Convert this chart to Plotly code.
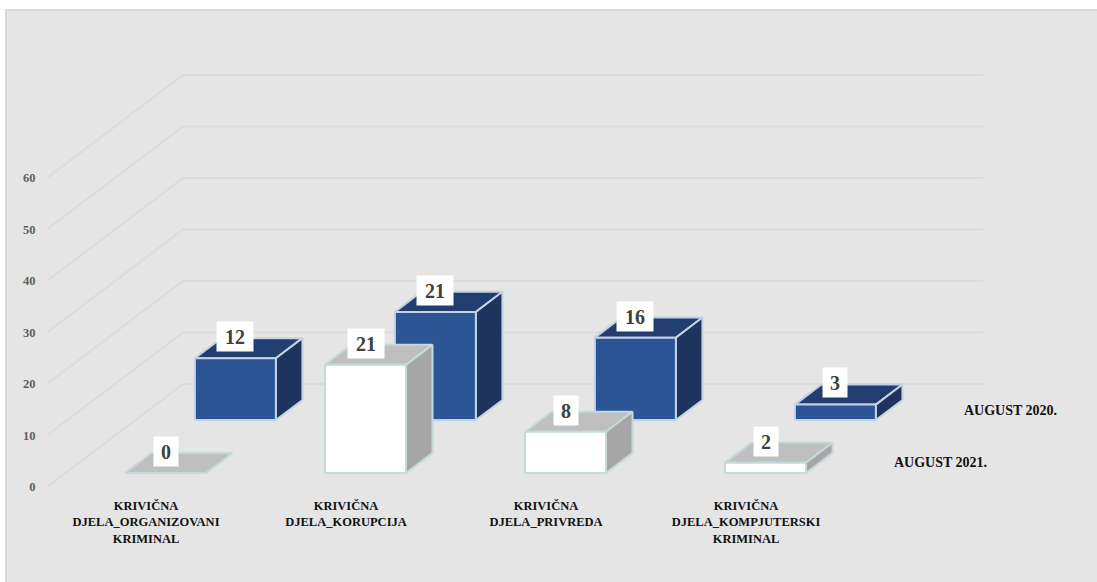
import plotly.graph_objects as go

categories = ["KRIVIČNA<br>DJELA_ORGANIZOVANI<br>KRIMINAL", "KRIVIČNA<br>DJELA_KORUPCIJA",
              "KRIVIČNA<br>DJELA_PRIVREDA", "KRIVIČNA<br>DJELA_KOMPJUTERSKI<br>KRIMINAL"]
series_2020 = [12, 21, 16, 3]
series_2021 = [0, 21, 8, 2]
name_2020 = "AUGUST 2020."
name_2021 = "AUGUST 2021."
y_ticks = [0, 10, 20, 30, 40, 50, 60]

FONT = "Liberation Serif"
DX, DY = 0.68, 20.0          # oblique projection of the depth axis
BAR_W = 0.405


def proj(c, v, d):
    return c + d * DX, v + d * DY


def faces(values, d0, d1):
    front, top, side = ([], []), ([], []), ([], [])
    for i, v in enumerate(values):
        l = i + 0.5 - BAR_W / 2
        r = i + 0.5 + BAR_W / 2
        polys = [
            (top, [(l, v, d0), (r, v, d0), (r, v, d1), (l, v, d1)]),
        ]
        if v > 0:
            polys.append((side, [(r, 0, d0), (r, 0, d1), (r, v, d1), (r, v, d0)]))
            polys.append((front, [(l, 0, d0), (r, 0, d0), (r, v, d0), (l, v, d0)]))
        for target, pts in polys:
            for p in pts + pts[:1]:
                x, y = proj(*p)
                target[0].append(x)
                target[1].append(y)
            target[0].append(None)
            target[1].append(None)
    return front, top, side


fig = go.Figure()

# gridlines: floor-side slant and back wall
for v in y_ticks:
    x0, y0 = proj(0, v, 0)
    x1, y1 = proj(0, v, 1)
    x2, y2 = proj(4, v, 1)
    fig.add_trace(go.Scatter(x=[x0, x1, x2], y=[y0, y1, y2], mode="lines",
                             line=dict(color="#DBDBDB", width=2), hoverinfo="skip", showlegend=False))


def add_series(values, d0, d1, name, cols, edge):
    front, top, side = faces(values, d0, d1)
    for data, col in ((top, cols[0]), (side, cols[1]), (front, cols[2])):
        fig.add_trace(go.Scatter(x=data[0], y=data[1], mode="lines", fill="toself", fillcolor=col,
                                 line=dict(color=edge, width=2), name=name, hoverinfo="skip",
                                 showlegend=False))


D_2020 = (0.65, 0.845)
D_2021 = (0.136, 0.331)
add_series(series_2020, *D_2020, name_2020, ("#223D70", "#1E345F", "#2C5596"), "#C3D1E3")
add_series(series_2021, *D_2021, name_2021, ("#BFBFBF", "#A6A6A6", "#FFFFFF"), "#C4DADA")

annotations = []
for values, (d0, d1) in ((series_2020, D_2020), (series_2021, D_2021)):
    for i, v in enumerate(values):
        x, y = proj(i + 0.5, v, d0)
        _, yb = proj(i + 0.5, v, d1)
        annotations.append(dict(x=x, y=yb + 0.3, xref="x", yref="y", text=f"<b>{v}</b>", showarrow=False,
                                bgcolor="#FFFFFF", width=22 if v < 10 else 34, height=27,
                                font=dict(family=FONT, size=20, color="#404040")))

for name, (d0, d1) in ((name_2020, D_2020), (name_2021, D_2021)):
    x, y = proj(4.31, 0, (d0 + d1) / 2)
    annotations.append(dict(x=x, y=y, xref="x", yref="y", text=f"<b>{name}</b>", showarrow=False,
                            font=dict(family=FONT, size=14, color="#111111")))

fig.update_layout(
    width=1097, height=582,
    margin=dict(l=47, r=0, t=0, b=95),
    paper_bgcolor="#FFFFFF", plot_bgcolor="rgba(0,0,0,0)",
    showlegend=False,
    xaxis=dict(range=[0, 1050 / 200], tickvals=[0.495, 1.495, 2.495, 3.495],
               ticktext=[f"<b>{c}</b>" for c in categories],
               showgrid=False, zeroline=False, showline=False, ticks="outside", ticklen=7,
               tickcolor="rgba(0,0,0,0)", tickangle=0,
               tickfont=dict(family=FONT, size=12.5, color="#111111")),
    yaxis=dict(range=[0, 487 / 5.15], tickvals=y_ticks, ticktext=[f"<b>{v}</b>" for v in y_ticks],
               showgrid=False, zeroline=False, showline=False, ticks="outside", ticklen=8,
               tickcolor="rgba(0,0,0,0)",
               tickfont=dict(family=FONT, size=12.5, color="#5F5F5F")),
    annotations=annotations,
    shapes=[dict(type="rect", xref="paper", yref="paper", layer="below",
                 x0=-41 / 1050, x1=1.01, y0=-110 / 487, y1=(487 - 10) / 487,
                 fillcolor="#E5E5E5", line=dict(color="#D9D9D9", width=2))],
)

fig.write_html("out.html", config={"displayModeBar": False},
               post_script="document.body.style.margin='0';")
